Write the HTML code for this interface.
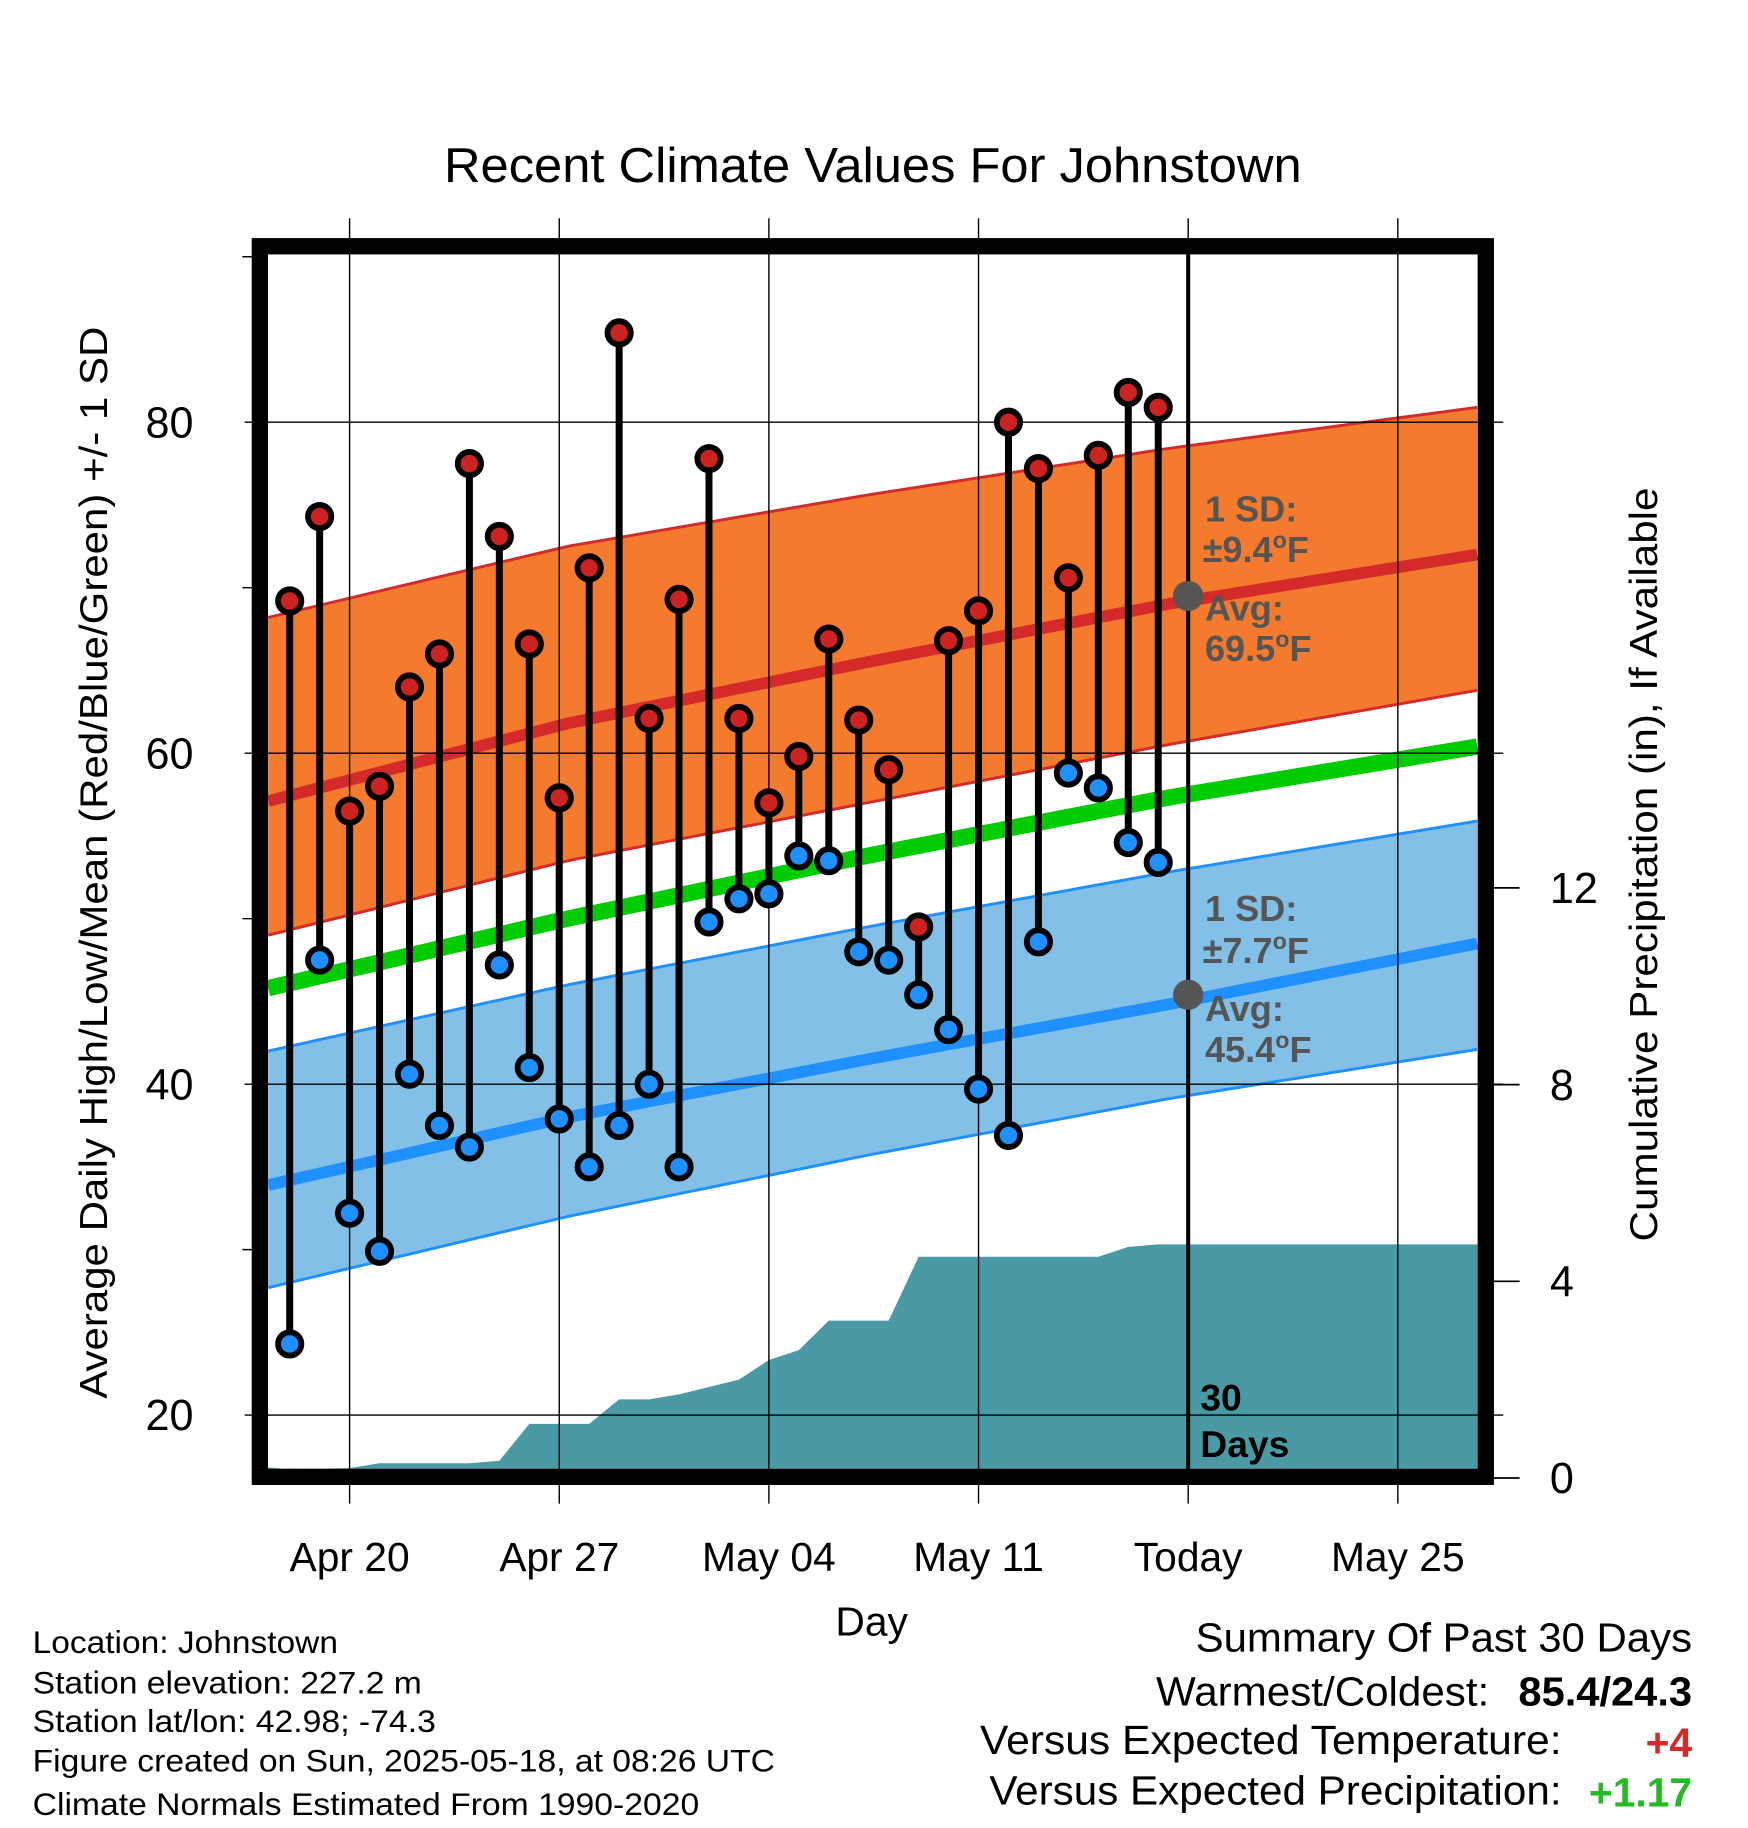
<!DOCTYPE html>
<html><head><meta charset="utf-8"><style>
html,body{margin:0;padding:0;background:#fff;}
svg{display:block;font-family:"Liberation Sans",sans-serif;}
</style></head><body>
<svg id="chart" width="1748" height="1828" viewBox="0 0 1500 1568" xmlns="http://www.w3.org/2000/svg">
<text x="381" y="156" font-size="42" textLength="736" lengthAdjust="spacingAndGlyphs">Recent Climate Values For Johnstown</text>
<g id="layer"></g>
</svg>
<script>
// ---- data ----
const highs = [69.2,74.3,56.5,58.0,64.0,66.0,77.5,73.1,66.6,57.3,71.2,85.4,62.1,69.3,77.8,62.1,57.0,59.8,66.9,62.0,59.0,49.5,66.8,68.6,80.0,77.2,70.6,78.0,81.8,80.9];
const lows  = [24.3,47.5,32.2,29.9,40.6,37.5,36.2,47.2,41.0,37.9,35.0,37.5,40.0,35.0,49.8,51.2,51.5,53.8,53.5,48.0,47.5,45.4,43.3,39.7,36.9,48.6,58.8,57.9,54.6,53.4];
const precip = [0.18,0.19,0.2,0.3,0.3,0.3,0.3,0.35,1.1,1.1,1.1,1.6,1.6,1.7,1.85,2.0,2.4,2.6,3.2,3.2,3.2,4.5,4.5,4.5,4.5,4.5,4.5,4.5,4.7,4.75];
const normDays = [-0.72,9.28,19.28,29.28,39.65];   // days after Apr 18
const normHigh = [57.1,61.8,65.5,69.0,72.0];
const normHighUp = [68.2,72.5,75.6,78.4,80.9];
const normHighLo = [49.0,53.5,57.0,60.5,63.8];
const normMean = [45.8,50.0,53.8,57.3,60.4];
const normLow = [33.9,38.0,41.5,44.8,48.5];
const normLowUp = [42.0,46.0,49.5,52.8,55.9];
const normLowLo = [27.7,32.0,35.7,39.1,42.1];
const xTickLabels = ["Apr 20","Apr 27","May 04","May 11","Today","May 25"];
const xTickDays = [2,9,16,23,30,37];
const yTicks = [20,40,60,80];
const pTicks = [0,4,8,12];
// ---- axes ----
const X0=230,X1=1268,Y0=218,Y1=1260;
const xs = d => 248.6 + d*25.7;
const ys = t => 362 + (80-t)*14.2;
const yp = p => 1268 - p*42.2;
const NS="http://www.w3.org/2000/svg";
const layer=document.getElementById('layer');
function mk(tag,attrs,parent){const e=document.createElementNS(NS,tag);for(const k in attrs)e.setAttribute(k,attrs[k]);(parent||layer).appendChild(e);return e;}
function interp(arr,d){for(let i=0;i<normDays.length-1;i++){if(d<=normDays[i+1]){const f=(d-normDays[i])/(normDays[i+1]-normDays[i]);return arr[i]+f*(arr[i+1]-arr[i]);}}return arr[arr.length-1];}
function curve(arr){const pts=[];const a=normDays[0],b=normDays[normDays.length-1];for(let k=0;k<=100;k++){const d=a+(b-a)*k/100;pts.push([xs(d),ys(interp(arr,d))]);}return pts;}
function band(up,lo,fill,edge,name){
 const a=curve(up),b=curve(lo).reverse();
 const p=mk('path',{d:'M'+a.concat(b).map(q=>q.join(',')).join('L')+'Z',fill:fill});
 
 
 [up,lo].forEach(arr=>{const l=mk('polyline',{points:curve(arr).map(q=>q.join(',')).join(' '),fill:'none',stroke:edge,'stroke-width':2.5});
 
 });
}
function line(arr,color,w,name){const l=mk('polyline',{points:curve(arr).map(q=>q.join(',')).join(' '),fill:'none',stroke:color,'stroke-width':w});
 
 }
band(normHighUp,normHighLo,'#f47a2e','#d42a2a','high-sd-band');
band(normLowUp,normLowLo,'#82c0e8','#1e90ff','low-sd-band');
line(normHigh,'#d42a2a',10,'normal-high-line');
line(normMean,'#00cc00',14,'normal-mean-line');
line(normLow,'#1e90ff',10,'normal-low-line');
// precip area
let pp=[[X0,Y1],[X0,Y1-1]];precip.forEach((p,i)=>pp.push([xs(i),yp(p)]));pp.push([X1,yp(precip[precip.length-1])]);pp.push([X1,Y1]);
const pa=mk('path',{d:'M'+pp.map(q=>q.join(',')).join('L')+'Z',fill:'#4a9aa5'});


// grid
xTickDays.forEach((d,i)=>{const g=mk('line',{x1:xs(d),x2:xs(d),y1:187,y2:1290,stroke:'#000','stroke-width':1.2});
 
 
 const t=mk('text',{x:xs(d),y:1348,'font-size':35,'text-anchor':'middle'});t.textContent=xTickLabels[i];
 
 });
yTicks.forEach(v=>{const g=mk('line',{x1:210,x2:1290,y1:ys(v),y2:ys(v),stroke:'#000','stroke-width':1.2});
 
 
 const t=mk('text',{x:166,y:ys(v)+13,'font-size':37,'text-anchor':'end'});t.textContent=v;
 
 });
[30,50,70,90].forEach(v=>{const g=mk('line',{x1:208,x2:222,y1:ys(v),y2:ys(v),stroke:'#000','stroke-width':1.2});
 
 });
pTicks.forEach(v=>{const g=mk('line',{x1:1276,x2:1304,y1:yp(v),y2:yp(v),stroke:'#000','stroke-width':1.5});
 
 
 const t=mk('text',{x:1330,y:yp(v)+13,'font-size':37});t.textContent=v;
 
 });
// today line
const tl=mk('line',{x1:xs(30),x2:xs(30),y1:Y0,y2:Y1,stroke:'#000','stroke-width':3.5});


// stems and markers
highs.forEach((h,i)=>{const s=mk('line',{x1:xs(i),x2:xs(i),y1:ys(h),y2:ys(lows[i]),stroke:'#000','stroke-width':6});
 
 });
highs.forEach((h,i)=>{const c=mk('circle',{cx:xs(i),cy:ys(h),r:10,fill:'#cc2222',stroke:'#000','stroke-width':5});
 
 
 const c2=mk('circle',{cx:xs(i),cy:ys(lows[i]),r:10,fill:'#1e90ff',stroke:'#000','stroke-width':5});
 
 });
// today normal dots
[69.5,45.4].forEach(v=>{const c=mk('circle',{cx:xs(30),cy:ys(v),r:13,fill:'#555'});
 
 });
// frame
const fr=mk('rect',{x:223,y:211,width:1052,height:1056,fill:'none',stroke:'#000','stroke-width':14});


</script>
<svg style="position:absolute;left:0;top:0" width="1748" height="1828" viewBox="0 0 1500 1568" xmlns="http://www.w3.org/2000/svg" font-family="Liberation Sans, sans-serif">
<g font-weight="bold" fill="#555" font-size="31">
<text x="1034" y="447">1 SD:</text>
<text x="1032" y="482">±9.4<tspan font-size="20" dy="-12">o</tspan><tspan dy="12">F</tspan></text>
<text x="1034" y="532">Avg:</text>
<text x="1034" y="567">69.5<tspan font-size="20" dy="-12">o</tspan><tspan dy="12">F</tspan></text>
</g>
<g font-weight="bold" fill="#555" font-size="31">
<text x="1034" y="790">1 SD:</text>
<text x="1032" y="826">±7.7<tspan font-size="20" dy="-12">o</tspan><tspan dy="12">F</tspan></text>
<text x="1034" y="876">Avg:</text>
<text x="1034" y="911">45.4<tspan font-size="20" dy="-12">o</tspan><tspan dy="12">F</tspan></text>
</g>
<g font-weight="bold" font-size="32">
<text x="1030" y="1210">30</text><text x="1030" y="1250">Days</text>
</g>
<text transform="translate(92,1200) rotate(-90)" font-size="33" textLength="920" lengthAdjust="spacingAndGlyphs">Average Daily High/Low/Mean (Red/Blue/Green) +/- 1 SD</text>
<text transform="translate(1422,1065) rotate(-90)" font-size="33" textLength="647" lengthAdjust="spacingAndGlyphs">Cumulative Precipitation (in), If Available</text>
<text x="748" y="1403" font-size="35" text-anchor="middle">Day</text>
<g font-size="27">
<text x="28" y="1418" textLength="262" lengthAdjust="spacingAndGlyphs">Location: Johnstown</text>
<text x="28" y="1453" textLength="334" lengthAdjust="spacingAndGlyphs">Station elevation: 227.2 m</text>
<text x="28" y="1486" textLength="346" lengthAdjust="spacingAndGlyphs">Station lat/lon: 42.98; -74.3</text>
<text x="28" y="1520" textLength="637" lengthAdjust="spacingAndGlyphs">Figure created on Sun, 2025-05-18, at 08:26 UTC</text>
<text x="28" y="1557" textLength="572" lengthAdjust="spacingAndGlyphs">Climate Normals Estimated From 1990-2020</text>
</g>
<g font-size="35">
<text x="1026" y="1417" textLength="426" lengthAdjust="spacingAndGlyphs">Summary Of Past 30 Days</text>
<text x="992" y="1463" textLength="286" lengthAdjust="spacingAndGlyphs">Warmest/Coldest:</text>
<text x="1303" y="1463" font-weight="bold" textLength="149" lengthAdjust="spacingAndGlyphs">85.4/24.3</text>
<text x="841" y="1505" textLength="499" lengthAdjust="spacingAndGlyphs">Versus Expected Temperature:</text>
<text x="1452" y="1507" text-anchor="end" font-weight="bold" fill="#d42a2a">+4</text>
<text x="849" y="1548" textLength="491" lengthAdjust="spacingAndGlyphs">Versus Expected Precipitation:</text>
<text x="1452" y="1550" text-anchor="end" font-weight="bold" fill="#22bb22">+1.17</text>
</g>
</svg>
</body></html>
